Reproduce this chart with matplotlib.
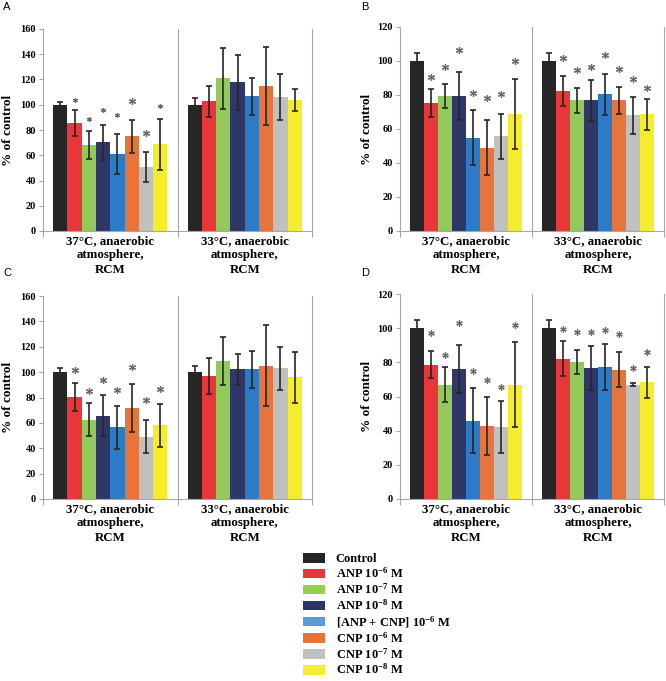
import matplotlib
matplotlib.use("Agg")
import matplotlib.pyplot as plt
from matplotlib.patches import Patch
import numpy as np

plt.rcParams['font.family'] = ['Liberation Serif', 'DejaVu Serif']
plt.rcParams['font.weight'] = 'bold'
plt.rcParams['mathtext.fontset'] = 'custom'
plt.rcParams['mathtext.rm'] = 'Liberation Serif:bold'
plt.rcParams['mathtext.it'] = 'Liberation Serif:bold:italic'
plt.rcParams['mathtext.bf'] = 'Liberation Serif:bold'

# ---------------- data ----------------
groups = ["37°C, anaerobic\natmosphere,\nRCM", "33°C, anaerobic\natmosphere,\nRCM"]
series = ["Control", r"ANP 10$^{-6}$ M", r"ANP 10$^{-7}$ M", r"ANP 10$^{-8}$ M",
          r"[ANP + CNP] 10$^{-6}$ M", r"CNP 10$^{-6}$ M", r"CNP 10$^{-7}$ M", r"CNP 10$^{-8}$ M"]
bar_colors = ["#262626", "#e8363a", "#92c95a", "#2f3769", "#2b7bc6", "#e7743a", "#c0c0c0", "#f5ec2b"]
legend_colors = ["#262626", "#e8383d", "#92d050", "#2e3566", "#5b9bd5", "#e8733a", "#c0c0c0", "#f5ed2a"]

A_mean_37 = [100, 85.2, 68.3, 70.2, 61.2, 74.9, 50.9, 68.6]
A_err_37 = [2.5, 10.3, 11.3, 14, 16, 13, 12, 20.5]
A_star_37 = [None, 103.4, 88.7, 96, 92, 102.6, 77.8, 99]
A_mean_33 = [100, 102.6, 120.8, 117.7, 106.6, 114.8, 106.3, 103.7]
A_err_33 = [5.5, 12, 24, 22, 14.5, 31, 18, 9]
A_star_33 = [None] * 8

B_mean_37 = [100, 75.3, 79.3, 79.3, 55, 49.1, 55.6, 68.7]
B_err_37 = [5, 8, 7.2, 14, 16.3, 16.3, 13, 20.5]
B_star_37 = [None, 90.6, 96.5, 106.7, 81.2, 78.3, 80.4, 99.8]
B_mean_33 = [100, 82.4, 76.9, 76.9, 80.4, 76.9, 68.1, 68.7]
B_err_33 = [5, 9, 7.2, 12, 12, 8, 11, 9]
B_star_33 = [None, 102, 94.9, 96.5, 103.3, 95.5, 89.4, 84.1]

C_mean_37 = [100, 80.5, 62.3, 65.7, 56.5, 71.5, 49.1, 58]
C_err_37 = [3, 11, 13, 16, 17, 19, 13, 17]
C_star_37 = [None, 101.6, 85.5, 93.9, 86, 104, 77.8, 86.5]
C_mean_33 = [100, 97.1, 108.7, 102.1, 102.1, 105, 102.9, 95.8]
C_err_33 = [5, 14, 19, 12.3, 14.5, 32, 17, 20]
C_star_33 = [None] * 8

D_mean_37 = [100, 78.6, 67, 76, 45.8, 42.8, 42.2, 67]
D_err_37 = [5, 8, 10, 14, 19, 17, 15, 25]
D_star_37 = [None, 96.9, 84.1, 103.1, 74.7, 69.5, 65.6, 102]
D_mean_33 = [100, 82.2, 80, 76.8, 77.5, 75.8, 67, 68.2]
D_err_33 = [5, 10, 7, 13, 13.5, 10, 1, 9]
D_star_33 = [None, 99.8, 97.7, 97.7, 99.2, 96.5, 76.8, 86.1]

A_ticks = [0, 20, 40, 60, 80, 100, 120, 140, 160]
B_ticks = [0, 20, 40, 60, 80, 100, 120]

panels = [
    ("A", [A_mean_37, A_mean_33], [A_err_37, A_err_33], [A_star_37, A_star_33], A_ticks),
    ("B", [B_mean_37, B_mean_33], [B_err_37, B_err_33], [B_star_37, B_star_33], B_ticks),
    ("C", [C_mean_37, C_mean_33], [C_err_37, C_err_33], [C_star_37, C_star_33], A_ticks),
    ("D", [D_mean_37, D_mean_33], [D_err_37, D_err_33], [D_star_37, D_star_33], B_ticks),
]

# ---------------- layout (pixels) ----------------
W, H = 666, 681
boxes = {"A": (43, 29, 312, 231), "B": (400, 27, 664, 231),
         "C": (43, 296, 312, 499), "D": (400, 294, 664, 499)}
letter_pos = {"A": (3, 7), "B": (361, 7), "C": (3, 273), "D": (361, 273)}
ylabel_right = {"A": 14, "B": 373, "C": 14, "D": 373}
# star marker sizes (style) per panel: small/large
star_sizes = {"A": [0, 3.2, 3.2, 3.2, 3.2, 5, 5, 3.2], "B": [5] * 8, "C": [5] * 8, "D": [4.6] * 8}

fig = plt.figure(figsize=(W / 100, H / 100), dpi=100)
axis_gray = "#a6a6a6"
bw = 0.85 / 8

for name, means, errs, stars, ticks in panels:
    l, t, r, b = boxes[name]
    ax = fig.add_axes([l / W, 1 - b / H, (r - l) / W, (b - t) / H])
    for gi in range(2):
        for si in range(8):
            x = gi + (si - 3.5) * bw
            ax.bar(x, means[gi][si], width=bw, color=bar_colors[si], linewidth=0, zorder=2)
            ax.errorbar(x, means[gi][si], yerr=errs[gi][si], fmt='none', ecolor="#262626",
                        elinewidth=1.2, capsize=2.4, capthick=1.2, zorder=3)
            s = stars[gi][si]
            if s is not None:
                ax.plot(x, s, marker=(6, 2, 0), markersize=star_sizes[name][si],
                        color="#6a6a6a", markeredgewidth=0.9, zorder=4, linestyle='none')
    ax.set_xlim(-0.5, 1.5)
    ax.set_ylim(0, ticks[-1])
    ax.set_yticks(ticks)
    ax.set_yticklabels([str(v) for v in ticks], fontsize=7.5, fontweight='bold')
    ax.set_xticks([-0.5, 0.5, 1.5])
    ax.set_xticklabels(["", "", ""])
    ax.set_xticks([0, 1], minor=True)
    ax.set_xticklabels(groups, minor=True, fontsize=9.3, fontweight='bold', linespacing=1.25)
    ax.tick_params(axis='x', which='major', length=4, color=axis_gray, width=0.8, direction='out')
    ax.tick_params(axis='x', which='minor', length=0, pad=3)
    ax.tick_params(axis='y', length=3, color=axis_gray, width=0.8, pad=2)
    ax.spines["top"].set_visible(False)
    for sp in ["left", "bottom", "right"]:
        ax.spines[sp].set_color(axis_gray)
        ax.spines[sp].set_linewidth(0.8)
    ax.axvline(0.5, color=axis_gray, linewidth=0.8, zorder=1)
    ax.set_ylabel("% of control", fontsize=9.5, fontweight='bold')
    ax.yaxis.set_label_coords((ylabel_right[name] - l) / (r - l), 0.5)
    lx, ly = letter_pos[name]
    fig.text(lx / W, 1 - ly / H, name, fontsize=8, family='Liberation Sans', fontweight='normal',
             ha='left', va='center')

handles = [Patch(facecolor=c, edgecolor='none') for c in legend_colors]
fig.legend(handles, series, loc='upper left', bbox_to_anchor=(303 / W, 1 - 553 / H),
           frameon=False, prop={'family': 'Liberation Serif', 'weight': 'bold', 'size': 9},
           handlelength=1.75, handleheight=0.8, handletextpad=0.85, labelspacing=0.1,
           borderpad=0, borderaxespad=0)

fig.savefig("out.png", dpi=100)
